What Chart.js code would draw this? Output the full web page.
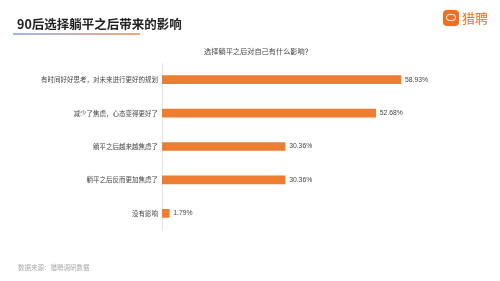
<!DOCTYPE html>
<html>
<head>
<meta charset="utf-8">
<script src="https://cdn.jsdelivr.net/npm/chart.js@4"></script>
<style>
  html, body { margin: 0; padding: 0; background: #fff; }
  body { width: 500px; height: 281px; position: relative; overflow: hidden;
         font-family: "Noto Sans CJK SC", "Noto Sans", sans-serif; }
  #wrap { position: absolute; left: 0; top: 0; width: 500px; height: 281px; }
  .title { position: absolute; left: 17px; top: 15px; font-size: 12.5px; font-weight: bold;
           color: #222; line-height: 18px; }
  .uline { position: absolute; left: 13px; top: 33px; width: 127px; height: 2px;
           background: linear-gradient(to right, #9db8ec, #f3a77a); }
  .logo { position: absolute; left: 443px; top: 10px; width: 16px; height: 16px;
          background: #f26f21; border-radius: 4px; }
  .logo span { position: absolute; left: 3px; top: 4px; width: 10px; height: 7px;
               border: 1px solid #fff; border-radius: 4px; box-sizing: border-box; }
  .brand { position: absolute; left: 462px; top: 9px; font-size: 13px; color: #f26f21;
           line-height: 18px; }
  .sub { position: absolute; left: 158px; width: 200px; top: 45px; text-align: center;
         font-size: 7.2px; color: #444; line-height: 12px; }
  .source { position: absolute; left: 18px; top: 262px; font-size: 6.5px; color: #aaa; }
</style>
</head>
<body>
<div id="wrap"><canvas id="chart" width="500" height="281"></canvas></div>
<div class="title">90后选择躺平之后带来的影响</div>
<div class="uline"></div>
<div class="logo"><span></span></div>
<div class="brand">猎聘</div>
<div class="sub" id="sub"></div>
<div class="source">数据来源：猎聘调研数据</div>
<script>
const categories = [
  '有时间好好思考，对未来进行更好的规划',
  '减少了焦虑，心态变得更好了',
  '躺平之后越来越焦虑了',
  '躺平之后反而更加焦虑了',
  '没有影响'
];
const values = [58.93, 52.68, 30.36, 30.36, 1.79];
const subtitle = '选择躺平之后对自己有什么影响？';

document.getElementById('sub').textContent = subtitle;

const valueLabels = {
  id: 'valueLabels',
  afterDatasetsDraw(chart) {
    const { ctx } = chart;
    const meta = chart.getDatasetMeta(0);
    ctx.save();
    ctx.font = '6.8px "Liberation Sans", Arial, sans-serif';
    ctx.fillStyle = '#444';
    ctx.textAlign = 'left';
    ctx.textBaseline = 'middle';
    meta.data.forEach((bar, i) => {
      ctx.fillText(values[i].toFixed(2) + '%', bar.x + 4, bar.y);
    });
    ctx.restore();
  }
};

const ctx = document.getElementById('chart');
new Chart(ctx, {
  type: 'bar',
  data: {
    labels: categories,
    datasets: [{ data: values, backgroundColor: '#ed7d31', barThickness: 8 }]
  },
  options: {
    indexAxis: 'y',
    responsive: false,
    animation: false,
    layout: { padding: { top: 63, bottom: 51, left: 0, right: 13.5 } },
    plugins: {
      legend: { display: false },
      tooltip: { enabled: false }
    },
    scales: {
      x: { display: false, min: 0, max: 80 },
      y: {
        afterFit(scale) { scale.width = 162; },
        grid: { display: true, drawOnChartArea: false, drawTicks: false },
        border: { color: '#e6e6e6', width: 1 },
        ticks: {
          color: '#444', padding: 4,
          font: { size: 6.5, family: '"Noto Sans CJK SC", sans-serif' }
        }
      }
    }
  },
  plugins: [valueLabels]
});
</script>
</body>
</html>
